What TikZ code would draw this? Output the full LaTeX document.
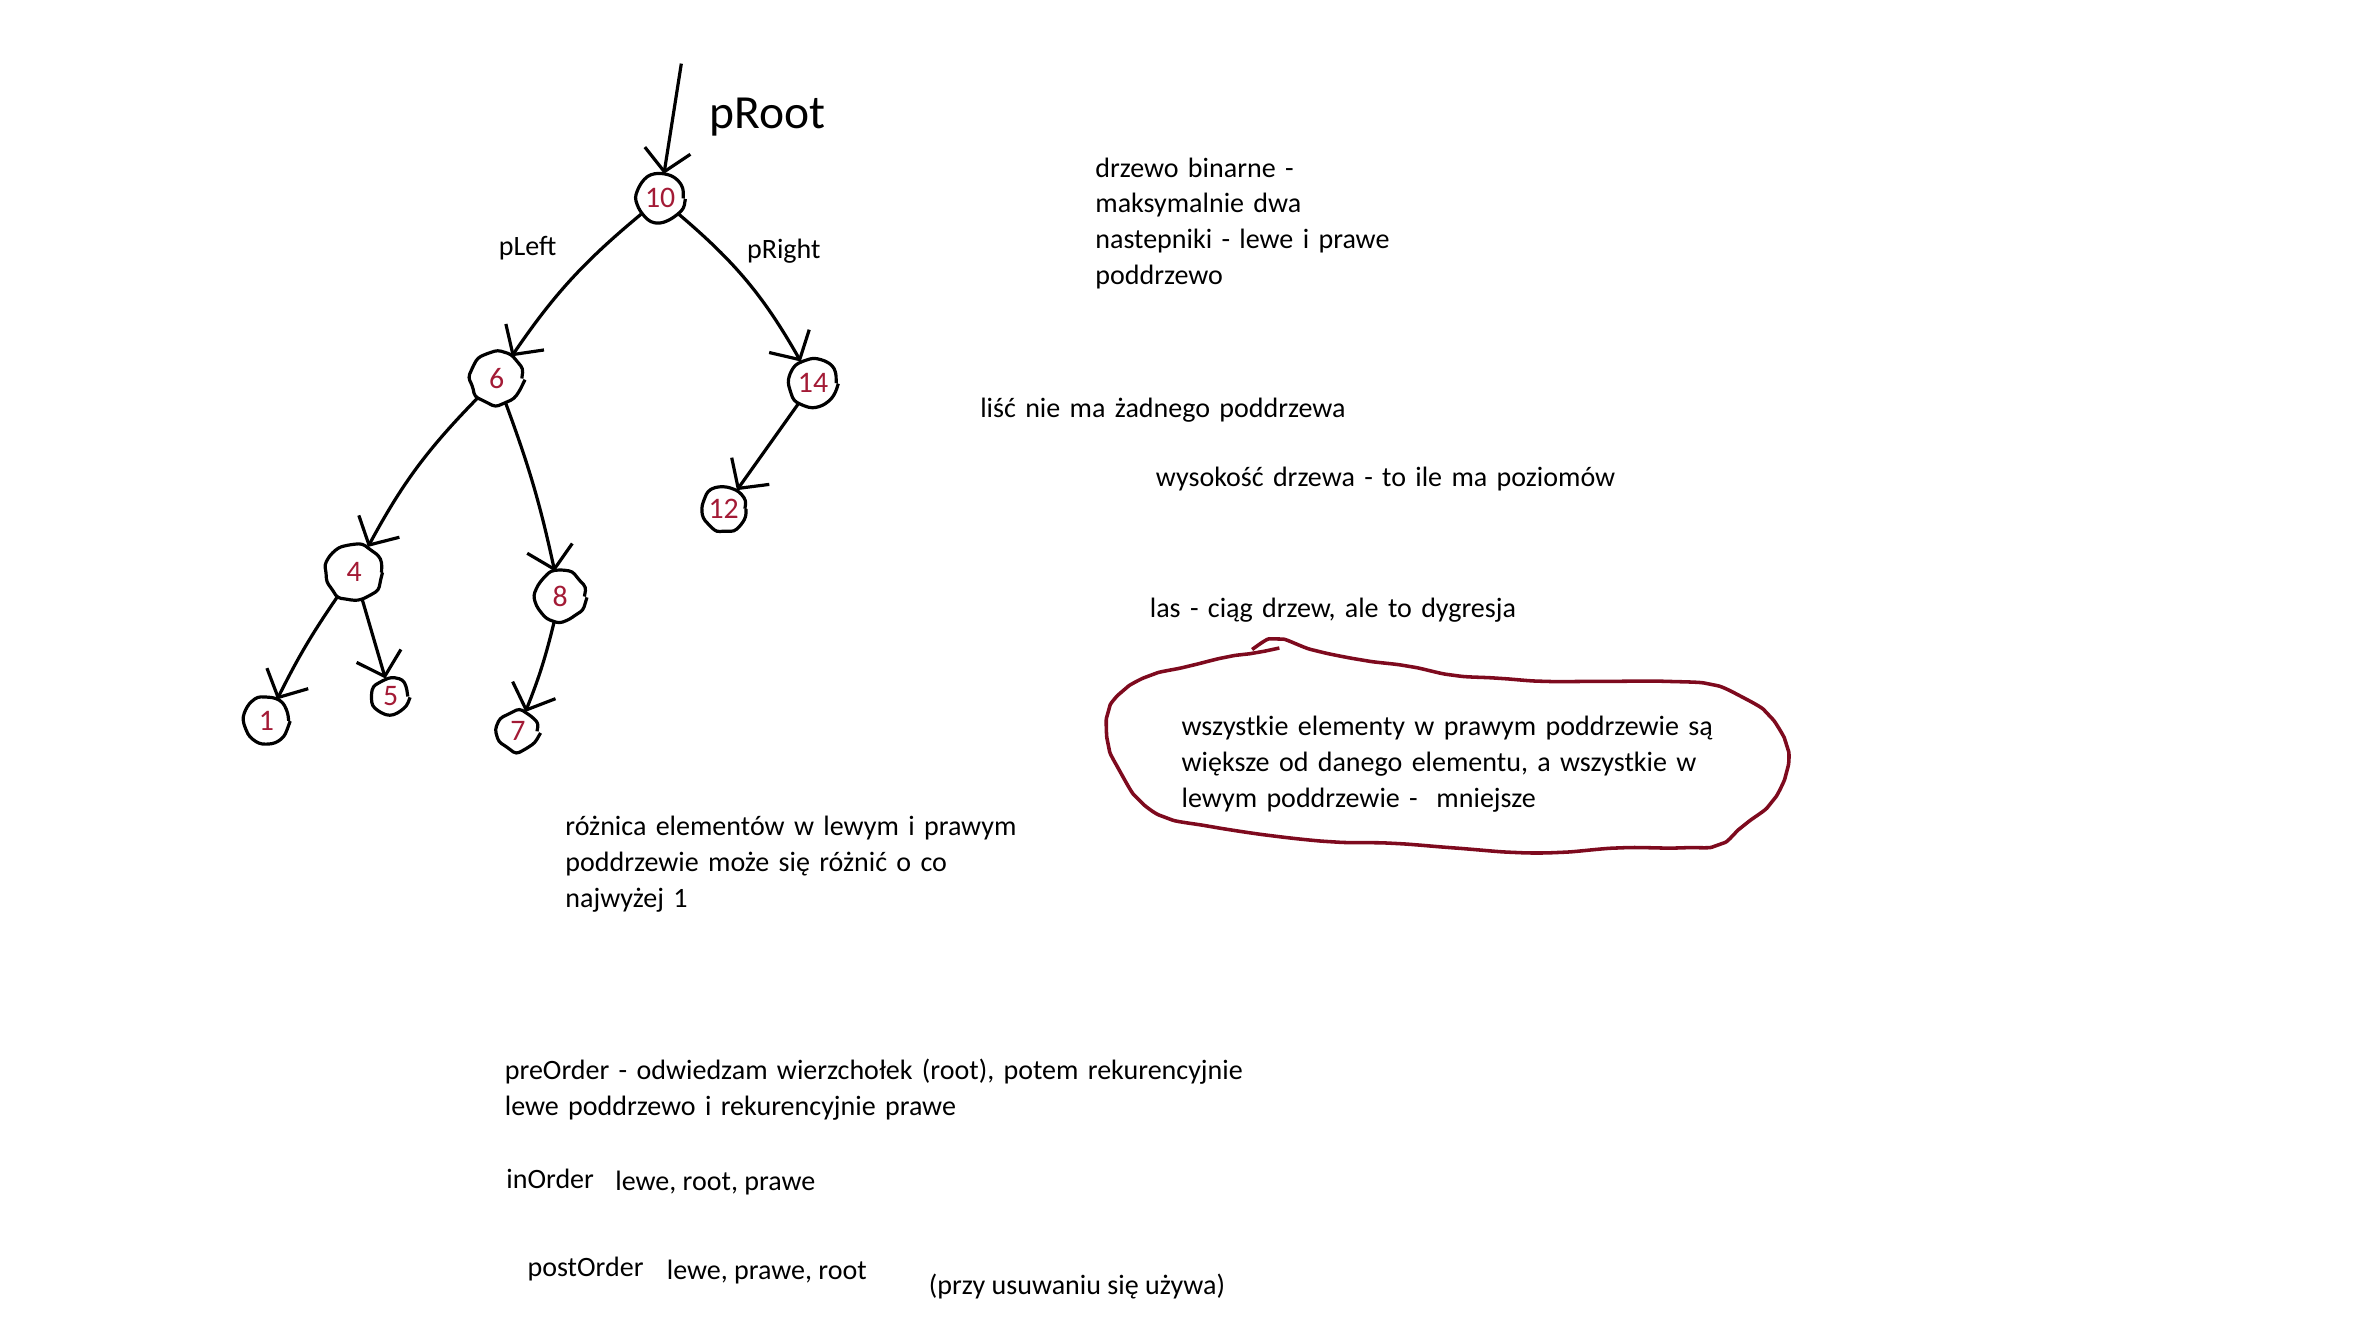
\documentclass[tikz,border=0pt]{standalone}
\usepackage{fontspec}
\setmainfont{Carlito}
\usetikzlibrary{arrows.meta,decorations.pathmorphing}
\definecolor{liczba}{HTML}{A31A35}
\definecolor{petla}{HTML}{7E0A1E}
\begin{document}
\begin{tikzpicture}[
      x=0.015cm, y=-0.015cm,
      font=\fontsize{7.9}{10.1}\selectfont,
      wezel/.style={draw, circle, inner sep=0pt, minimum size=0.46cm, line width=0.9pt, text=liczba,
        font=\fontsize{8.4}{10}\selectfont,
        decorate, decoration={random steps, segment length=2.5pt, amplitude=0.5pt}, rounded corners=1pt},
      strzalka/.style={line width=0.9pt, -{Straight Barb[length=6pt,width=13pt]}},
      notatka/.style={anchor=base west, inner sep=0pt, text width=10cm, align=left}
    ]
      \pgfmathsetseed{11}
      \useasboundingbox (0,0) rectangle (1568,876);
      % drzewo
      \node[wezel] (n10) at (436,131) {10};
      \node[wezel, minimum size=0.5cm] (n6) at (328,250) {6};
      \node[wezel] (n14) at (537,253) {14};
      \node[wezel, minimum size=0.42cm] (n12) at (478,336) {12};
      \node[wezel, minimum size=0.54cm] (n4) at (234,378) {4};
      \node[wezel, minimum size=0.48cm] (n8) at (370,394) {8};
      \node[wezel, minimum size=0.44cm] (n1) at (176,476) {1};
      \node[wezel, minimum size=0.34cm] (n5) at (258,460) {5};
      \node[wezel, minimum size=0.38cm] (n7) at (342,483) {7};
      \coordinate (start) at (450,42);
      \draw[strzalka] (start) -- (n10);
      \draw[strzalka] (n10) to[bend right=8] (n6);
      \draw[strzalka] (n10) to[bend left=10] (n14);
      \draw[strzalka] (n6) to[bend right=8] (n4);
      \draw[strzalka] (n6) to[bend left=4] (n8);
      \draw[strzalka] (n14) -- (n12);
      \draw[strzalka] (n4) to[bend right=4] (n1);
      \draw[strzalka] (n4) -- (n5);
      \draw[strzalka] (n8) to[bend left=4] (n7);
      \node[anchor=base west, inner sep=0pt, font=\fontsize{13.4}{16}\selectfont] (proot) at (468,85) {pRoot};
      \node[anchor=base west, inner sep=0pt] (pleft) at (329,169) {pLeft};
      \node[anchor=base west, inner sep=0pt] (pright) at (493,171) {pRight};
      % notatki
      \node[notatka] (binarne) at (723,117) {drzewo binarne -\\ maksymalnie dwa\\ nastepniki - lewe i prawe\\ poddrzewo};
      \node[notatka] (lisc) at (647,276) {liść nie ma żadnego poddrzewa};
      \node[notatka] (wysokosc) at (763,321) {wysokość drzewa - to ile ma poziomów};
      \node[notatka] (las) at (759,408) {las - ciąg drzew, ale to dygresja};
      \node[notatka] (bst) at (780,486) {wszystkie elementy w prawym poddrzewie są\\ większe od danego elementu, a wszystkie w\\ lewym poddrzewie -\ \ mniejsze};
      \draw[petla, line width=1pt, rounded corners=2pt] plot[smooth, tension=0.55] coordinates {
        (827,429) (843,422) (870,430) (900,436) (930,440) (960,446) (990,448) (1020,450)
        (1060,450) (1100,450) (1130,452) (1150,460) (1168,472) (1180,492) (1180,510)
        (1170,530) (1152,545) (1135,558) (1110,560) (1070,560) (1030,563) (1000,563)
        (960,560) (920,557) (880,556) (840,552) (800,546) (770,540) (752,528) (740,510)
        (732,492) (732,470) (742,456) (760,446) (785,440) (810,434) (830,431) (845,428)};
      \node[notatka] (roznica) at (373,552) {różnica elementów w lewym i prawym\\ poddrzewie może się różnić o co\\ najwyżej 1};
      \node[notatka] (preorder) at (333,713) {preOrder - odwiedzam wierzchołek (root), potem rekurencyjnie\\ lewe poddrzewo i rekurencyjnie prawe};
      \node[anchor=base west, inner sep=0pt] (inorder) at (334,785) {inOrder};
      \node[anchor=base west, inner sep=0pt] (inopis) at (406,786) {lewe, root, prawe};
      \node[anchor=base west, inner sep=0pt] (postorder) at (348,843) {postOrder};
      \node[anchor=base west, inner sep=0pt] (postopis) at (440,845) {lewe, prawe, root};
      \node[anchor=base west, inner sep=0pt] (uwaga) at (613,855) {(przy usuwaniu się używa)};
    \end{tikzpicture}
\end{document}
